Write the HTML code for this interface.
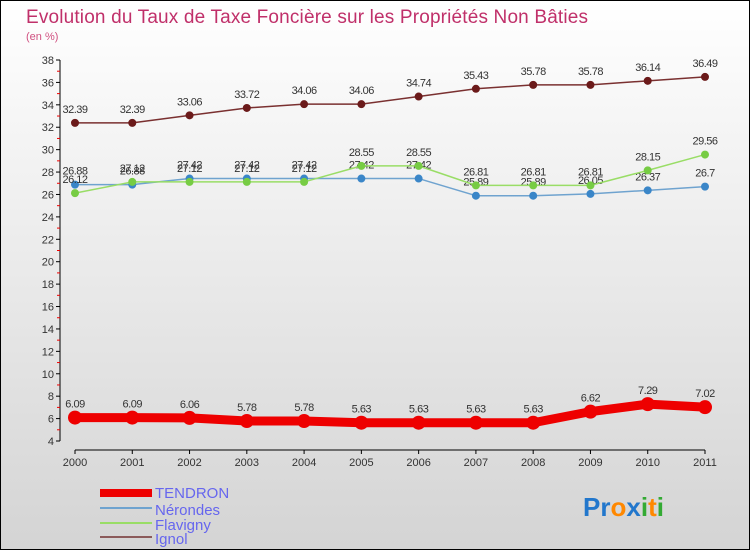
<!DOCTYPE html>
<html><head><meta charset="utf-8"><style>
body{margin:0;}
svg text{font-family:"Liberation Sans",sans-serif;}
</style></head><body>
<svg id="c" width="750" height="550" xmlns="http://www.w3.org/2000/svg">
<defs><linearGradient id="bg" x1="0" y1="0" x2="0" y2="1"><stop offset="0" stop-color="#ffffff"/><stop offset="1" stop-color="#d4d4d4"/></linearGradient></defs>
<rect x="0.5" y="0.5" width="749" height="549" fill="url(#bg)" stroke="#000"/>
<text x="26" y="23" font-size="19" fill="#c0306a" textLength="562">Evolution du Taux de Taxe Foncière sur les Propriétés Non Bâties</text>
<text x="26" y="40" font-size="11" fill="#d05080">(en %)</text>
<g id="axes"></g><g id="series"></g>
<g>
<rect x="100" y="489" width="52" height="8" fill="#ee0000"/>
<text x="155" y="498" font-size="15" fill="#6666ee">TENDRON</text>
<line x1="100" y1="508" x2="152" y2="508" stroke="#6fa3cf" stroke-width="2"/>
<text x="155" y="515" font-size="15" fill="#6666ee">Nérondes</text>
<line x1="100" y1="523" x2="152" y2="523" stroke="#99dd66" stroke-width="2"/>
<text x="155" y="530" font-size="15" fill="#6666ee">Flavigny</text>
<line x1="100" y1="537" x2="152" y2="537" stroke="#8b5a5a" stroke-width="2"/>
<text x="155" y="544" font-size="15" fill="#6666ee">Ignol</text>
</g>
<text x="583" y="516" font-size="26" font-weight="bold"><tspan fill="#2277cc">Pr</tspan><tspan fill="#ff8800">o</tspan><tspan fill="#2277cc">x</tspan><tspan fill="#33aa33">i</tspan><tspan fill="#ff8800">t</tspan><tspan fill="#33aa33">i</tspan></text>
</svg>
<script>
const years=["2000","2001","2002","2003","2004","2005","2006","2007","2008","2009","2010","2011"];
const yTicks=[4,6,8,10,12,14,16,18,20,22,24,26,28,30,32,34,36,38];
const tendron=[6.09,6.09,6.06,5.78,5.78,5.63,5.63,5.63,5.63,6.62,7.29,7.02];
const nerondes=[26.88,26.88,27.42,27.42,27.42,27.42,27.42,25.89,25.89,26.05,26.37,26.7];
const flavigny=[26.12,27.12,27.12,27.12,27.12,28.55,28.55,26.81,26.81,26.81,28.15,29.56];
const ignol=[32.39,32.39,33.06,33.72,34.06,34.06,34.74,35.43,35.78,35.78,36.14,36.49];
const NS="http://www.w3.org/2000/svg";
const x=i=>75+i*(630/11);
const y=v=>60+(38-v)*(381/34);
function mk(t,a,p){const e=document.createElementNS(NS,t);for(const k in a)e.setAttribute(k,a[k]);p.appendChild(e);return e;}
const ax=document.getElementById('axes');
const yl=mk('line',{x1:60,y1:60,x2:60,y2:441,stroke:'#000'},ax);


yTicks.forEach(v=>{
 mk('line',{x1:56,y1:y(v),x2:60,y2:y(v),stroke:'#000'},ax);
 if(v<38)mk('line',{x1:57,y1:y(v+1),x2:60,y2:y(v+1),stroke:'#e00'},ax);
 const t=mk('text',{x:54,y:y(v)+4,'font-size':11,'text-anchor':'end',fill:'#333'},ax);t.textContent=v;
 
 
});
const xl=mk('line',{x1:75,y1:450,x2:705,y2:450,stroke:'#000'},ax);


years.forEach((yr,i)=>{
 mk('line',{x1:x(i),y1:450,x2:x(i),y2:454,stroke:'#000'},ax);
 const t=mk('text',{x:x(i),y:466,'font-size':11,'text-anchor':'middle',fill:'#333'},ax);t.textContent=yr;
 
 
});
const sg=document.getElementById('series');
function draw(data,name,col,dot,w,r){
 const g=mk('g',{},sg);
 
 
 mk('polyline',{points:data.map((v,i)=>x(i)+','+y(v)).join(' '),fill:'none',stroke:col,'stroke-width':w,'stroke-linejoin':'round'},g);
 data.forEach((v,i)=>{
  const c=mk('circle',{cx:x(i),cy:y(v),r:r,fill:dot},g);
  
  
  const t=mk('text',{x:x(i),y:y(v)-10,'font-size':11,'text-anchor':'middle',fill:'#333','letter-spacing':'-0.5'},g);
  t.textContent=String(v);
  
  
 });
}
draw(ignol,'ignol','#7a3030','#6b1a1a',1.5,4);
draw(nerondes,'nerondes','#6fa3cf','#3a86c8',1.5,4);
draw(flavigny,'flavigny','#99dd66','#77cc44',1.5,4);
draw(tendron,'tendron','#ee0000','#ee0000',9,7);
</script>
</body></html>
